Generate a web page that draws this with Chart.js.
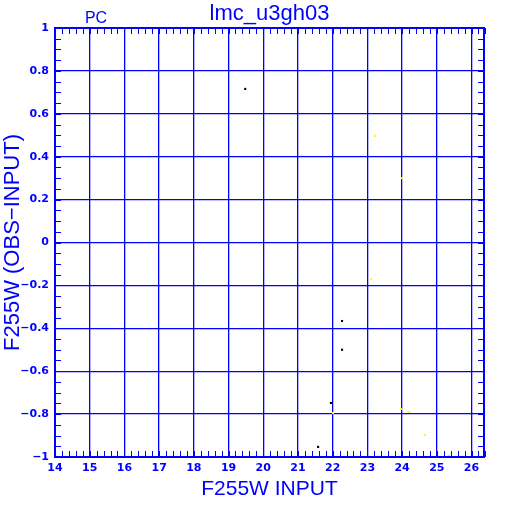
<!DOCTYPE html>
<html lang="en">
<head>
    <meta charset="UTF-8">
    <title>lmc_u3gh03</title>
    <script src="https://cdn.jsdelivr.net/npm/chart.js"></script>
    <style>
        html, body { margin: 0; padding: 0; background: #fff; }
    </style>
</head>
<body>
    <canvas id="chart" width="512" height="512"></canvas>

    <script>
        // black points
        const blackX = [19.48, 22.27, 22.27, 21.95, 21.58];
        const blackY = [0.716, -0.366, -0.50, -0.748, -0.953];
        // yellow points
        const yellowX = [23.22, 24.0, 23.11, 22.01, 23.97, 24.2, 24.66, 25.35];
        const yellowY = [0.497, 0.30, -0.17, -0.795, -0.776, -0.79, -0.897, -0.995];

        const xRange = [14, 26.36];
        const yRange = [-1, 1];
        const xMinorStep = 0.2;
        const yMinorStep = 0.05;

        const BLUE = '#0000ff';

        function toPoints(xs, ys) {
            return xs.map((x, i) => ({ x: x, y: ys[i] }));
        }

        // frame, minor ticks and the "PC" / title text
        const framePlugin = {
            id: 'frame',
            afterDraw(chart) {
                const ctx = chart.ctx;
                const a = chart.chartArea;
                const xs = chart.scales.x;
                const ys = chart.scales.y;
                ctx.save();
                ctx.strokeStyle = BLUE;
                ctx.lineWidth = 2;
                ctx.strokeRect(a.left, a.top, a.right - a.left, a.bottom - a.top);

                ctx.lineWidth = 1;
                ctx.beginPath();
                const n = Math.round((xRange[1] - xRange[0]) / xMinorStep);
                for (let i = 0; i <= n; i++) {
                    const px = Math.round(xs.getPixelForValue(xRange[0] + i * xMinorStep)) + 0.5;
                    ctx.moveTo(px, a.bottom); ctx.lineTo(px, a.bottom - 6);
                    ctx.moveTo(px, a.top); ctx.lineTo(px, a.top + 6);
                }
                const m = Math.round((yRange[1] - yRange[0]) / yMinorStep);
                for (let i = 0; i <= m; i++) {
                    const py = Math.round(ys.getPixelForValue(yRange[0] + i * yMinorStep)) + 0.5;
                    ctx.moveTo(a.left, py); ctx.lineTo(a.left + 6, py);
                    ctx.moveTo(a.right, py); ctx.lineTo(a.right - 6, py);
                }
                ctx.stroke();

                ctx.fillStyle = BLUE;
                ctx.textBaseline = 'middle';
                ctx.textAlign = 'center';
                ctx.font = '22px "Liberation Sans"';
                ctx.fillText('lmc_u3gh03', (a.left + a.right) / 2, 14);
                ctx.font = '16px "Liberation Sans"';
                ctx.fillText('PC', 96, 19);
                ctx.restore();
            }
        };

        const tickFont = { family: 'DejaVu Sans', size: 11, weight: 'bold' };
        const titleFont = { family: 'Liberation Sans', size: 21 };

        new Chart(document.getElementById('chart'), {
            type: 'scatter',
            data: {
                datasets: [
                    {
                        data: toPoints(blackX, blackY),
                        backgroundColor: '#000000',
                        borderWidth: 0,
                        pointStyle: 'rect',
                        pointRadius: 1.5
                    },
                    {
                        data: toPoints(yellowX, yellowY),
                        backgroundColor: '#ffff00',
                        borderWidth: 0,
                        pointStyle: 'rect',
                        pointRadius: 1.5
                    }
                ]
            },
            options: {
                responsive: false,
                animation: false,
                layout: { padding: { top: 28, right: 28, left: 0, bottom: 0 } },
                plugins: {
                    legend: { display: false },
                    tooltip: { enabled: false }
                },
                scales: {
                    x: {
                        type: 'linear',
                        min: xRange[0],
                        max: xRange[1],
                        afterFit(scale) { scale.height = 55; },
                        grid: { color: BLUE, lineWidth: 1.3, drawTicks: false },
                        border: { display: false },
                        ticks: {
                            stepSize: 1,
                            includeBounds: false,
                            color: BLUE,
                            font: tickFont,
                            padding: 5,
                            maxRotation: 0
                        },
                        title: {
                            display: true,
                            text: 'F255W INPUT',
                            color: BLUE,
                            font: titleFont,
                            padding: { top: 0, bottom: 10 }
                        }
                    },
                    y: {
                        type: 'linear',
                        min: yRange[0],
                        max: yRange[1],
                        afterFit(scale) { scale.width = 55; },
                        grid: { color: BLUE, lineWidth: 1.3, drawTicks: false },
                        border: { display: false },
                        ticks: {
                            stepSize: 0.2,
                            color: BLUE,
                            font: tickFont,
                            padding: 6,
                            callback: v => {
                                const r = Math.round(v * 10) / 10;
                                return r < 0 ? '\u2212' + String(-r) : String(r);
                            }
                        },
                        title: {
                            display: true,
                            text: 'F255W (OBS\u2212INPUT)',
                            color: BLUE,
                            font: { family: 'Liberation Sans', size: 22 },
                            padding: { top: 0, bottom: 0 }
                        }
                    }
                }
            },
            plugins: [framePlugin]
        });
    </script>
</body>
</html>
